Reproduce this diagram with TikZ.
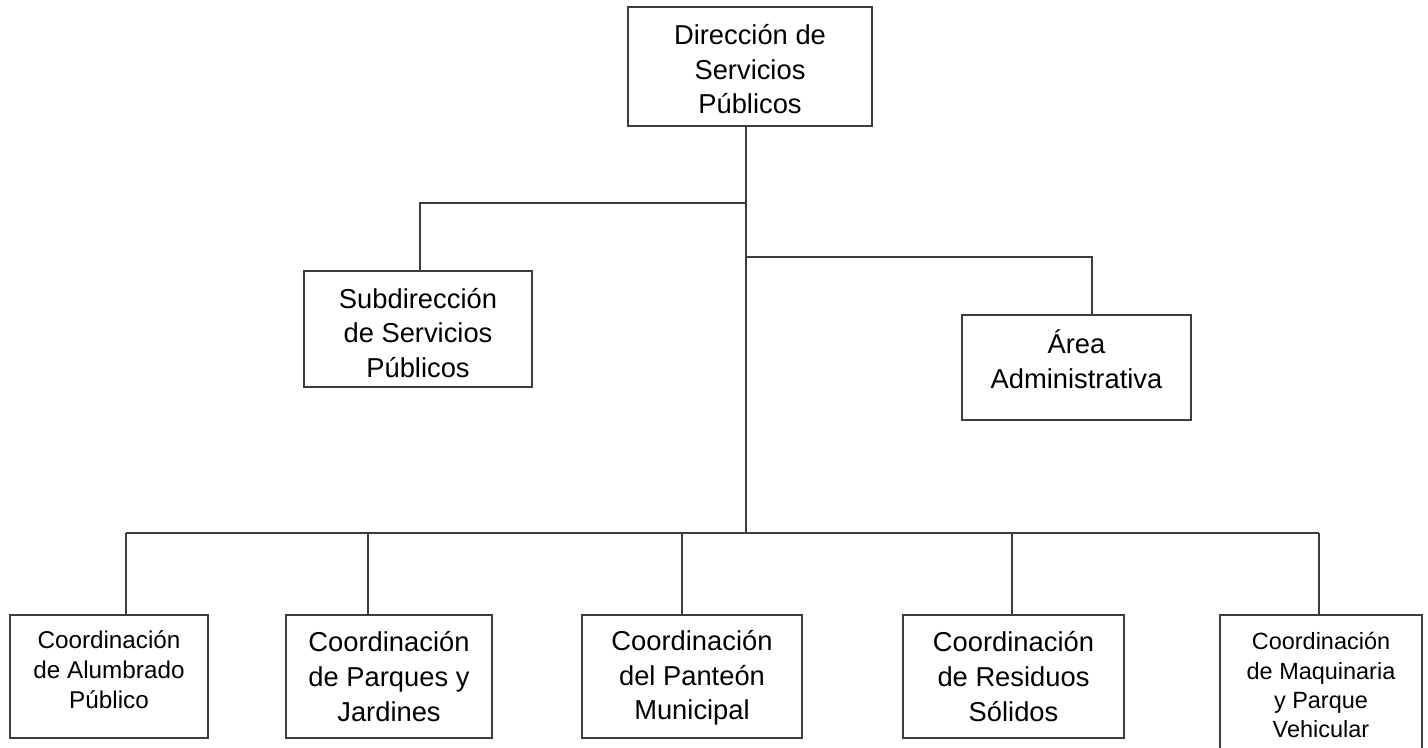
\documentclass[tikz,border=0pt]{standalone}
\usepackage{fontspec}
\setmainfont{Liberation Sans}
\begin{document}
\begin{tikzpicture}[x=0.75pt,y=-0.75pt,
  box/.style={draw=linec,line width=1.3pt,fill=white,inner sep=0pt},
  lbl/.style={inner sep=0pt,align=center,font=\fontsize{20.5}{26}\selectfont},
  slbl/.style={inner sep=0pt,align=center,font=\fontsize{17.6}{22}\selectfont},
  sslbl/.style={inner sep=0pt,align=center,font=\fontsize{18.2}{22.3}\selectfont},
  conn/.style={draw=linec,line width=1.3pt}]
\definecolor{linec}{RGB}{60,60,60}
\useasboundingbox[fill=white] (0,0) rectangle (1428,747);
% boxes
\node[box,minimum width=244*0.75pt,minimum height=119*0.75pt] (top) at (750,66.5) {};
\node[box,minimum width=228*0.75pt,minimum height=116*0.75pt] (sub) at (418,329) {};
\node[box,minimum width=229*0.75pt,minimum height=105*0.75pt] (area) at (1076.5,367.5) {};
\node[box,minimum width=198*0.75pt,minimum height=123*0.75pt] (b1) at (109,676.5) {};
\node[box,minimum width=206*0.75pt,minimum height=123*0.75pt] (b2) at (389,676.5) {};
\node[box,minimum width=220*0.75pt,minimum height=123*0.75pt] (b3) at (692,676.5) {};
\node[box,minimum width=221*0.75pt,minimum height=123*0.75pt] (b4) at (1013.5,676.5) {};
\node[box,minimum width=202*0.75pt,minimum height=142*0.75pt] (b5) at (1321,686) {};
% texts
\node[lbl] (topt) at ([yshift=-2pt]top.center) {Dirección de\\Servicios\\Públicos};
\node[lbl] (subt) at ([yshift=-3pt]sub.center) {Subdirección\\de Servicios\\Públicos};
\node[lbl] (areat) at ([yshift=6pt]area.center) {Área\\Administrativa};
\node[sslbl] (b1t) at ([yshift=5pt]b1.center) {Coordinación\\de Alumbrado\\Público};
\node[lbl] (b2t) at (b2.center) {Coordinación\\de Parques y\\Jardines};
\node[lbl] (b3t) at ([yshift=-1pt]b3.center) {Coordinación\\del Panteón\\Municipal};
\node[lbl] (b4t) at (b4.center) {Coordinación\\de Residuos\\Sólidos};
\node[slbl] (b5t) at ([yshift=0.5pt]b5.center) {Coordinación\\de Maquinaria\\y Parque\\Vehicular};
% junctions
\coordinate (j1) at (746,203);
\coordinate (j2) at (746,257);
\coordinate (j3) at (746,533);
\coordinate (ks) at (420,203);
\coordinate (ka) at (1092,257);
\coordinate (k1) at (126,533);
\coordinate (k2) at (368,533);
\coordinate (k3) at (682,533);
\coordinate (k4) at (1012,533);
\coordinate (k5) at (1319,533);
% connectors
\draw[conn] (top.south -| j1) -- (j3);
\draw[conn] (j1) -- (ks) -- (ks |- sub.north);
\draw[conn] (j2) -- (ka) -- (ka |- area.north);
\draw[conn] (k1) -- (k5);
\draw[conn] (k1) -- (k1 |- b1.north);
\draw[conn] (k2) -- (k2 |- b2.north);
\draw[conn] (k3) -- (k3 |- b3.north);
\draw[conn] (k4) -- (k4 |- b4.north);
\draw[conn] (k5) -- (k5 |- b5.north);
\end{tikzpicture}
\end{document}
